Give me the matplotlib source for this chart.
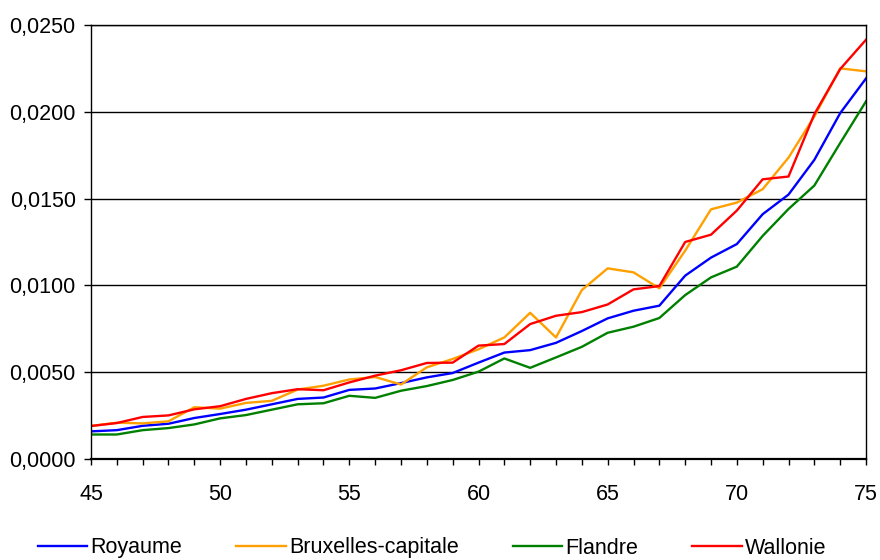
import numpy as np
import matplotlib
matplotlib.use('Agg')
import matplotlib.pyplot as plt
from matplotlib.ticker import FuncFormatter, MultipleLocator

plt.rcParams['font.family'] = ['Liberation Sans', 'DejaVu Sans']

# Ages
ages = list(range(45, 76))

# Values per region
royaume = [0.00159, 0.00166, 0.00191, 0.00203, 0.00236, 0.00259, 0.00284, 0.00315,
           0.00346, 0.00354, 0.00398, 0.00406, 0.00437, 0.00470, 0.00495, 0.00555,
           0.00613, 0.00627, 0.00669, 0.00737, 0.00810, 0.00854, 0.00883, 0.01056,
           0.01160, 0.01238, 0.01410, 0.01523, 0.01723, 0.01992, 0.02192]
bruxelles = [0.00190, 0.00209, 0.00205, 0.00217, 0.00298, 0.00290, 0.00323, 0.00335,
             0.00400, 0.00422, 0.00458, 0.00472, 0.00429, 0.00528, 0.00576, 0.00632,
             0.00700, 0.00842, 0.00700, 0.00973, 0.01098, 0.01075, 0.00983, 0.01200,
             0.01438, 0.01477, 0.01554, 0.01736, 0.01973, 0.02250, 0.02233]
flandre = [0.00141, 0.00141, 0.00166, 0.00178, 0.00199, 0.00234, 0.00253, 0.00284,
           0.00315, 0.00321, 0.00364, 0.00352, 0.00393, 0.00420, 0.00455, 0.00503,
           0.00579, 0.00525, 0.00585, 0.00646, 0.00727, 0.00762, 0.00812, 0.00944,
           0.01046, 0.01108, 0.01285, 0.01440, 0.01575, 0.01820, 0.02060]
wallonie = [0.00190, 0.00207, 0.00242, 0.00251, 0.00286, 0.00304, 0.00346, 0.00379,
            0.00402, 0.00396, 0.00441, 0.00480, 0.00511, 0.00553, 0.00555, 0.00653,
            0.00662, 0.00777, 0.00825, 0.00846, 0.00890, 0.00977, 0.00996, 0.01250,
            0.01292, 0.01431, 0.01611, 0.01627, 0.01986, 0.02246, 0.02415]

fig = plt.figure(figsize=(8.8, 5.6), dpi=100)
ax = fig.add_axes([0.1034, 0.1804, 0.8807, 0.775])

ax.plot(ages, royaume, color='#0000ff', lw=1.7, label='Royaume')
ax.plot(ages, bruxelles, color='#ffa000', lw=1.7, label='Bruxelles-capitale')
ax.plot(ages, flandre, color='#008000', lw=1.7, label='Flandre')
ax.plot(ages, wallonie, color='#ff0000', lw=1.7, label='Wallonie')

ax.set_xlim(45, 75)
ax.set_ylim(0, 0.025)
ax.xaxis.set_major_locator(MultipleLocator(5))
ax.xaxis.set_minor_locator(MultipleLocator(1))
ax.yaxis.set_major_locator(MultipleLocator(0.005))
ax.yaxis.set_major_formatter(FuncFormatter(lambda v, p: f'{v:.4f}'.replace('.', ',')))

ax.grid(axis='y', color='black', lw=1.0)
ax.set_axisbelow(True)
for s in ax.spines.values():
    s.set_linewidth(1.0)
ax.spines['bottom'].set_linewidth(1.6)

ax.tick_params(axis='y', direction='out', length=5, width=1, labelsize=15.5, pad=6)
ax.tick_params(axis='x', which='major', direction='out', length=4, width=1,
               labelsize=15.5, pad=14)
ax.tick_params(axis='x', which='minor', direction='out', length=4, width=1)

fig.legend(loc='center', bbox_to_anchor=(0.491, 12 / 560), ncol=4, frameon=False,
           fontsize=15.5, handlelength=2.3, handletextpad=0.15, columnspacing=2.5)

fig.savefig('out.png', dpi=100)
